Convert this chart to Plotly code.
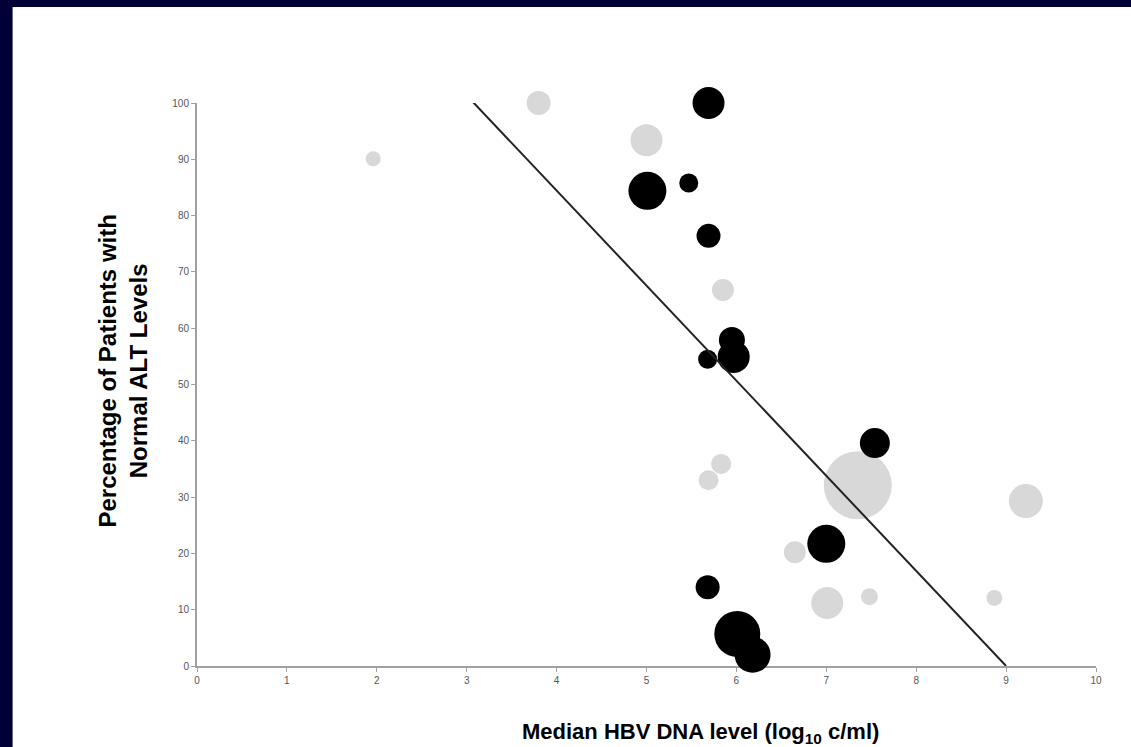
import plotly.graph_objects as go

# ---- data ----
gray_x = [1.96, 3.80, 5.00, 5.85, 5.69, 5.83, 6.65, 7.01, 7.48, 7.35, 9.22, 8.87]
gray_y = [90.1, 100.0, 93.4, 66.8, 33.0, 35.9, 20.2, 11.2, 12.3, 32.1, 29.3, 12.1]
gray_n = [15, 24, 32, 22, 20, 20, 22, 32, 17, 68, 34, 16]

black_x = [5.69, 5.01, 5.47, 5.69, 5.68, 5.95, 5.97, 7.54, 7.00, 5.68, 6.01, 6.18]
black_y = [100.0, 84.4, 85.8, 76.4, 54.5, 57.9, 54.9, 39.6, 21.7, 14.0, 5.7, 2.0]
black_n = [32, 38, 19, 24, 19, 26, 32, 30, 38, 24, 46, 36]

trend_x = [3.05, 9.0]
trend_y = [100.5, 0.0]

x_ticks = [0, 1, 2, 3, 4, 5, 6, 7, 8, 9, 10]
y_ticks = [0, 10, 20, 30, 40, 50, 60, 70, 80, 90, 100]

x_title = "<b>Median HBV DNA level (log<sub>10</sub> c/ml)</b>"
y_title = "<b>Percentage of Patients with<br>Normal ALT Levels</b>"

# ---- figure geometry (body margin removed by post_script) ----
W, H = 1131, 747
ML, MR, MT, MB = 196.5, 35, 103, 81
PW = W - ML - MR
PH = H - MT - MB


def px(page_x):
    return (page_x - ML) / PW


def py(page_y):
    return (H - MB - page_y) / PH


fig = go.Figure()
fig.add_trace(go.Scatter(
    x=gray_x, y=gray_y, mode="markers", cliponaxis=False,
    marker=dict(size=gray_n, sizemode="diameter", color="#d8d8d8",
                line=dict(width=0), opacity=1),
    hoverinfo="skip", showlegend=False))
fig.add_trace(go.Scatter(
    x=black_x, y=black_y, mode="markers", cliponaxis=False,
    marker=dict(size=black_n, sizemode="diameter", color="#000000",
                line=dict(width=0), opacity=1),
    hoverinfo="skip", showlegend=False))
fig.add_trace(go.Scatter(
    x=trend_x, y=trend_y, mode="lines", cliponaxis=False,
    line=dict(color="#222222", width=2),
    hoverinfo="skip", showlegend=False))

navy = "#000036"
fig.add_shape(type="rect", xref="paper", yref="paper",
              x0=px(-20), x1=px(12), y0=py(800), y1=py(-20),
              fillcolor=navy, line=dict(width=0), layer="above")
fig.add_shape(type="rect", xref="paper", yref="paper",
              x0=px(-20), x1=px(1160), y0=py(7), y1=py(-20),
              fillcolor=navy, line=dict(width=0), layer="above")

fig.add_annotation(text=x_title, xref="paper", yref="paper",
                   x=px(700), y=py(733), xanchor="center", yanchor="middle",
                   showarrow=False, font=dict(size=22, color="#000000"))
fig.add_annotation(text=y_title, xref="paper", yref="paper",
                   x=px(121.5), y=py(371.5), xanchor="center", yanchor="middle",
                   textangle=-90, showarrow=False,
                   font=dict(size=24, color="#000000"))

fig.update_layout(
    width=W, height=H,
    margin=dict(l=ML, r=MR, t=MT, b=MB, pad=0),
    paper_bgcolor="white", plot_bgcolor="white",
    font=dict(family="Arial, Liberation Sans, sans-serif", color="#000000"),
    xaxis=dict(range=[0, 10], tickvals=x_ticks, ticktext=[str(v) for v in x_ticks],
               showgrid=False, zeroline=False, showline=True, linecolor="#a0a0a0", linewidth=2,
               ticks="outside", ticklen=4, tickcolor="#a0a0a0", tickwidth=1,
               tickfont=dict(size=10, color="#555555"), layer="below traces"),
    yaxis=dict(range=[0, 100], tickvals=y_ticks, ticktext=[str(v) for v in y_ticks],
               showgrid=False, zeroline=False, showline=True, linecolor="#a0a0a0", linewidth=2,
               ticks="outside", ticklen=4, tickcolor="#a0a0a0", tickwidth=1,
               tickfont=dict(size=10, color="#555555"), layer="below traces"),
)

fig.write_html("out.html",
               config={"displayModeBar": False},
               post_script="document.body.style.margin='0px';document.body.style.padding='0px';")
